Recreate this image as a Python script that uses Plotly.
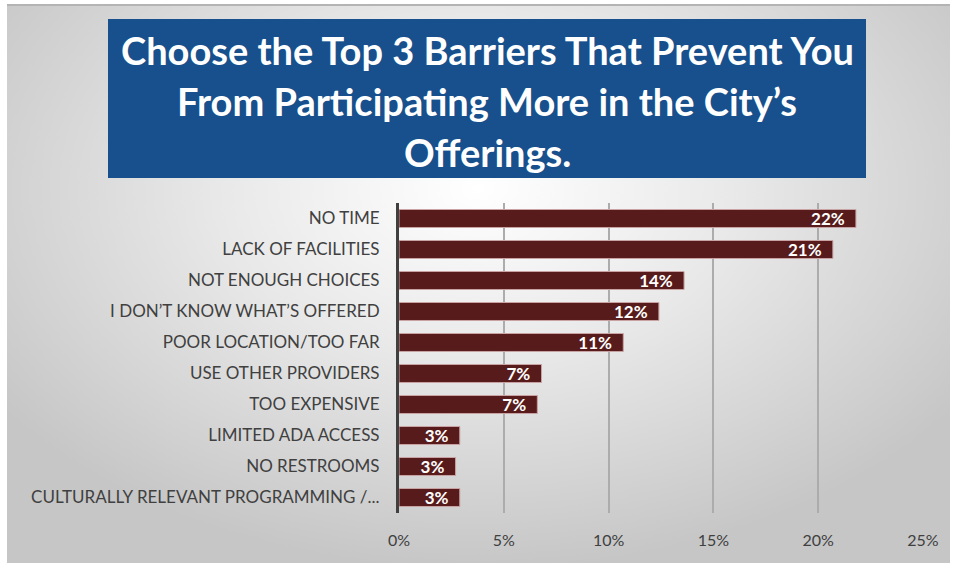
import base64
import plotly.graph_objects as go

# Survey results: share of respondents naming each barrier
barriers = [
    "NO TIME",
    "LACK OF FACILITIES",
    "NOT ENOUGH CHOICES",
    "I DON\u2019T KNOW WHAT\u2019S OFFERED",
    "POOR LOCATION/TOO FAR",
    "USE OTHER PROVIDERS",
    "TOO EXPENSIVE",
    "LIMITED ADA ACCESS",
    "NO RESTROOMS",
    "CULTURALLY RELEVANT PROGRAMMING /...",
]
shares = [0.218, 0.207, 0.136, 0.124, 0.107, 0.068, 0.066, 0.029, 0.027, 0.029]
x_ticks = [0, 0.05, 0.10, 0.15, 0.20, 0.25]
x_tick_labels = ["0%", "5%", "10%", "15%", "20%", "25%"]
title_lines = [
    "Choose the Top 3 Barriers That Prevent You",
    "From Participating More in the City\u2019s",
    "Offerings.",
]

W, H = 954, 565
L, R, T, B = 399, 31, 203, 52
PW, PH = W - L - R, H - T - B


def px_x(p):
    return (p - L) / PW


def px_y(p):
    return (H - B - p) / PH


# Soft radial backdrop for the chart panel
bg_svg = (
    '<svg xmlns="http://www.w3.org/2000/svg" width="943" height="559" '
    'viewBox="0 0 943 559" preserveAspectRatio="none">'
    '<defs><radialGradient id="g" cx="0.5" cy="0.33" r="0.62" '
    'gradientTransform="translate(0.5 0.33) scale(1 1.1) translate(-0.5 -0.33)">'
    '<stop offset="0" stop-color="#ffffff"/>'
    '<stop offset="0.45" stop-color="#e8e8e8"/>'
    '<stop offset="1" stop-color="#c6c6c6"/>'
    '</radialGradient></defs>'
    '<rect width="943" height="559" fill="url(#g)"/>'
    '<rect x="0" y="0" width="943" height="2" fill="#b4b4b4"/>'
    '</svg>'
)
bg_uri = "data:image/svg+xml;base64," + base64.b64encode(bg_svg.encode()).decode()

fig = go.Figure()
fig.add_trace(
    go.Bar(
        x=shares,
        y=barriers,
        orientation="h",
        marker=dict(color="#581b1b", line=dict(color="#c9a3a3", width=1)),
        texttemplate="%{x:.0%}\u00a0\u00a0",
        textposition="inside",
        insidetextanchor="end",
        constraintext="none",
        cliponaxis=False,
        textfont=dict(family="Lato", size=17, color="white", weight="bold"),
        hoverinfo="skip",
    )
)

annotations = []
for i, line in enumerate(title_lines):
    annotations.append(
        dict(
            text=f"<b>{line}</b>",
            xref="paper", yref="paper",
            x=px_x(487), y=px_y(50 + i * 51),
            xanchor="center", yanchor="middle",
            showarrow=False,
            font=dict(family="Lato", size=38, color="white"),
        )
    )

fig.update_layout(
    width=W, height=H,
    margin=dict(l=L, r=R, t=T, b=B, pad=0),
    paper_bgcolor="white",
    plot_bgcolor="rgba(0,0,0,0)",
    showlegend=False,
    bargap=0.42,
    images=[
        dict(
            source=bg_uri, xref="paper", yref="paper",
            x=px_x(7), y=px_y(4), sizex=943 / PW, sizey=559 / PH,
            xanchor="left", yanchor="top", sizing="stretch", layer="below",
        )
    ],
    shapes=[
        dict(
            type="rect", xref="paper", yref="paper",
            x0=px_x(108), x1=px_x(866), y0=px_y(178), y1=px_y(19),
            fillcolor="#17508c", line=dict(width=0), layer="below",
        )
    ],
    annotations=annotations,
    xaxis=dict(
        range=[0, 0.25],
        tickvals=x_ticks,
        ticktext=x_tick_labels,
        showgrid=True,
        gridcolor="#acacac",
        gridwidth=1.5,
        zeroline=False,
        showline=False,
        ticks="",
        ticklabelstandoff=16,
        tickfont=dict(family="Lato", size=16, color="#404040"),
        fixedrange=True,
    ),
    yaxis=dict(
        autorange="reversed",
        showgrid=False,
        zeroline=False,
        showline=True,
        linecolor="#404040",
        linewidth=3,
        ticks="",
        ticklabelstandoff=13,
        tickfont=dict(family="Lato", size=17, color="#404040"),
        fixedrange=True,
    ),
)

fig.write_html("out.html")
